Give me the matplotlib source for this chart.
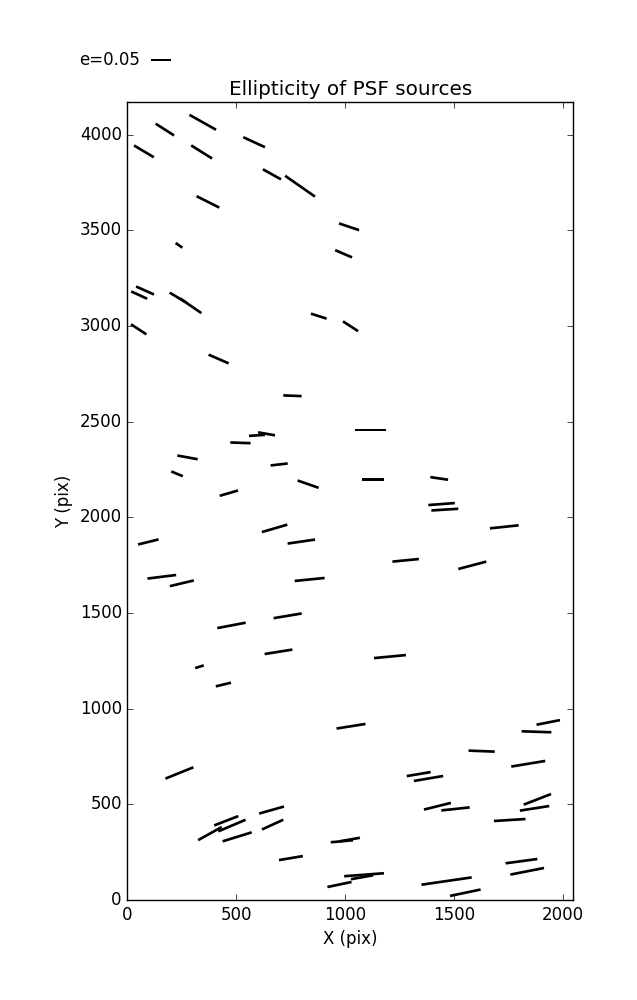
import numpy as np
import matplotlib
matplotlib.use("Agg")
import matplotlib.pyplot as plt

plt.style.use("classic")
plt.rcParams["figure.facecolor"] = "white"
plt.rcParams["savefig.facecolor"] = "white"

# star positions on the chip (pix)
x_pos = [172, 346, 76, 341, 582, 664, 793, 370, 1018, 237, 993, 81, 54, 232, 291,
         879, 1025, 52, 419, 758, 1117, 595, 639, 519, 276, 697, 228, 1129, 1432, 830,
         466, 1443, 1458, 1731, 676, 96, 799, 1278, 1584, 158, 250, 837, 478, 736, 694,
         1206, 331, 441, 1027, 1933, 1879, 1627, 239, 1841, 1338, 1383, 1424, 1507, 1883, 1870,
         1756, 454, 480, 379, 504, 662, 667, 985, 1022, 751, 1810, 1836, 1087, 1078, 974,
         1466, 1552]
y_pos = [4026, 4064, 3912, 3909, 3960, 3792, 3730, 3648, 3518, 3421, 3377, 3185, 3161, 3148, 3105,
         3051, 2998, 2982, 2827, 2635, 2456, 2428, 2436, 2389, 2313, 2276, 2227, 2196, 2203, 2173,
         2126, 2069, 2040, 1950, 1942, 1871, 1873, 1775, 1749, 1689, 1655, 1675, 1435, 1485, 1297,
         1272, 1219, 1126, 908, 928, 879, 778, 664, 712, 658, 635, 490, 476, 526, 479,
         418, 414, 389, 347, 330, 470, 394, 307, 316, 219, 203, 150, 132, 119, 81,
         99, 38]
# ellipticity and position angle (deg)
e_val = [0.056, 0.078, 0.059, 0.063, 0.061, 0.053, 0.093, 0.065, 0.054, 0.021, 0.047, 0.050, 0.045, 0.049, 0.066,
         0.042, 0.046, 0.047, 0.056, 0.047, 0.080, 0.041, 0.044, 0.052, 0.053, 0.044, 0.032, 0.055, 0.046, 0.057,
         0.049, 0.068, 0.069, 0.074, 0.068, 0.054, 0.071, 0.068, 0.074, 0.074, 0.063, 0.077, 0.074, 0.073, 0.072,
         0.082, 0.023, 0.040, 0.075, 0.061, 0.076, 0.067, 0.077, 0.088, 0.062, 0.076, 0.071, 0.073, 0.075, 0.076,
         0.081, 0.066, 0.076, 0.069, 0.078, 0.066, 0.060, 0.057, 0.052, 0.062, 0.082, 0.088, 0.102, 0.058, 0.063,
         0.130, 0.080]
pa_deg = [-32.6, -29.3, -30.7, -32.1, -24.7, -29.1, -34.9, -26.6, -18.5, -34.9, -23.2, -24.0, -24.5, -30.8, -34.6,
          -17.7, -32.9, -33.2, -23.5, -2.2, 0.0, 3.6, -10.0, -2.0, -10.3, 6.7, -22.4, 0.0, -8.4, -19.2,
          16.2, 4.3, 3.6, 6.0, 16.3, 13.8, 8.3, 5.6, 14.8, 7.1, 13.4, 5.7, 10.8, 9.5, 9.1,
          5.4, 17.2, 13.6, 9.0, 11.2, -1.9, -2.2, 22.0, 9.4, 9.5, 9.7, 13.9, 6.1, 21.2, 8.9,
          3.6, 21.2, 23.1, 29.1, 17.2, 15.8, 24.5, 5.2, 9.9, 9.5, 7.7, 11.1, 4.3, 10.2, 11.8,
          8.3, 11.8]

e = np.array(e_val)
ang = np.radians(pa_deg)
u = e * np.cos(ang)
v = e * np.sin(ang)

fig = plt.figure(figsize=(6.37, 10), dpi=100)
ax = fig.add_axes([0.2, 0.1, 0.7, 0.798])

q = ax.quiver(x_pos, y_pos, u, v, pivot="middle", headwidth=0, headlength=0,
              headaxislength=0, scale=0.256, scale_units="inches", width=0.006,
              color="black")
ax.quiverkey(q, X=150.5 / 637, Y=0.94, U=0.05, label="e=0.05", labelpos="W",
             coordinates="figure", fontproperties={"size": 12})

ax.set_xlim(0, 2048)
ax.set_ylim(0, 4170)
ax.set_xticks([0, 500, 1000, 1500, 2000])
ax.set_yticks([0, 500, 1000, 1500, 2000, 2500, 3000, 3500, 4000])
ax.set_xlabel("X (pix)")
ax.set_ylabel("Y (pix)")
ax.set_title("Ellipticity of PSF sources")

fig.savefig("out.png", dpi=100)
